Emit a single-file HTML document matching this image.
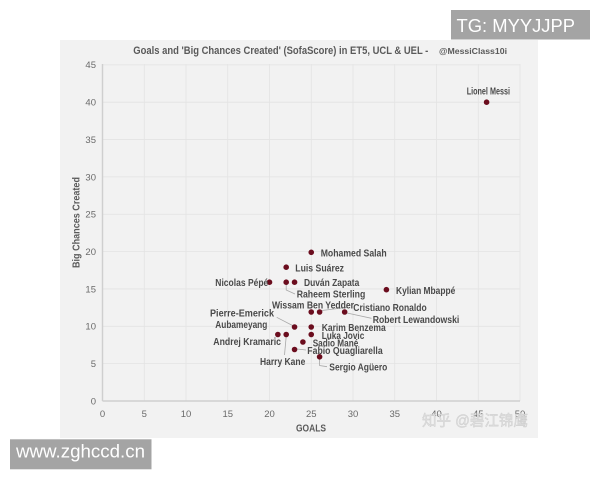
<!DOCTYPE html>
<html><head><meta charset="utf-8"><style>
html,body{margin:0;padding:0;background:#fff;width:600px;height:480px;overflow:hidden}
svg{display:block}
text{font-family:"Liberation Sans","Noto Sans CJK SC",sans-serif}
</style></head><body>
<svg width="600" height="480" viewBox="0 0 600 480" xmlns="http://www.w3.org/2000/svg">
<rect x="60" y="40" width="478" height="398" fill="#f2f2f2"/>
<g stroke="#e3e3e3" stroke-width="0.8">
<line x1="144.25" y1="64" x2="144.25" y2="401"/><line x1="186" y1="64" x2="186" y2="401"/>
<line x1="227.75" y1="64" x2="227.75" y2="401"/><line x1="269.5" y1="64" x2="269.5" y2="401"/>
<line x1="311.25" y1="64" x2="311.25" y2="401"/><line x1="353" y1="64" x2="353" y2="401"/>
<line x1="394.75" y1="64" x2="394.75" y2="401"/><line x1="436.5" y1="64" x2="436.5" y2="401"/>
<line x1="478.25" y1="64" x2="478.25" y2="401"/><line x1="520" y1="64" x2="520" y2="401"/>
<line x1="102.5" y1="363.65" x2="520" y2="363.65"/><line x1="102.5" y1="326.3" x2="520" y2="326.3"/>
<line x1="102.5" y1="288.95" x2="520" y2="288.95"/><line x1="102.5" y1="251.6" x2="520" y2="251.6"/>
<line x1="102.5" y1="214.25" x2="520" y2="214.25"/><line x1="102.5" y1="176.9" x2="520" y2="176.9"/>
<line x1="102.5" y1="139.55" x2="520" y2="139.55"/><line x1="102.5" y1="102.2" x2="520" y2="102.2"/>
<line x1="102.5" y1="64.85" x2="520" y2="64.85"/>
</g>
<g stroke="#cfcfcf" stroke-width="1.5">
<line x1="102.5" y1="64" x2="102.5" y2="401"/>
<line x1="102.5" y1="401" x2="520" y2="401"/>
</g>
<g fill="#6a6a6a" font-size="9.5" text-anchor="end">
<text x="96" y="404.5">0</text><text x="96" y="367">5</text><text x="96" y="329.7">10</text>
<text x="96" y="292.3">15</text><text x="96" y="255">20</text><text x="96" y="217.6">25</text>
<text x="96" y="180.3">30</text><text x="96" y="142.9">35</text><text x="96" y="105.6">40</text>
<text x="96" y="68.2">45</text>
</g>
<g fill="#6a6a6a" font-size="9.5" text-anchor="middle">
<text x="102.5" y="417">0</text><text x="144.25" y="417">5</text><text x="186" y="417">10</text>
<text x="227.75" y="417">15</text><text x="269.5" y="417">20</text><text x="311.25" y="417">25</text>
<text x="353" y="417">30</text><text x="394.75" y="417">35</text><text x="436.5" y="417">40</text>
<text x="478.25" y="417">45</text><text x="520" y="417">50</text>
</g>
<text x="311" y="431.5" font-size="10.5" font-weight="bold" fill="#5a5a5a" text-anchor="middle" textLength="30" lengthAdjust="spacingAndGlyphs">GOALS</text>
<text transform="translate(79.5,222.5) rotate(-90)" font-size="10.5" font-weight="bold" fill="#5a5a5a" text-anchor="middle" textLength="91" lengthAdjust="spacingAndGlyphs">Big Chances Created</text>
<text x="133.3" y="54" font-size="11" font-weight="bold" fill="#5a5a5a" textLength="295" lengthAdjust="spacingAndGlyphs">Goals and 'Big Chances  Created' (SofaScore)  in ET5, UCL &amp; UEL -</text>
<text x="439" y="54" font-size="8.5" font-weight="bold" fill="#5a5a5a" textLength="68" lengthAdjust="spacingAndGlyphs">@MessiClass10i</text>
<g stroke="#a8a8a8" stroke-width="0.8" fill="none">
<polyline points="286.2,284.5 286.2,290 295,294"/>
<line x1="322" y1="310.5" x2="347" y2="307.3"/>
<line x1="347" y1="313" x2="371.5" y2="318.3"/>
<line x1="276.7" y1="317.3" x2="292.5" y2="325.5"/>
<line x1="286.2" y1="336.5" x2="284.5" y2="355"/>
<line x1="297" y1="349" x2="306" y2="350"/>
<polyline points="319.6,359 319.6,365.5 327,366.7"/>
</g>
<g fill="#6b0d1e">
<circle cx="486.6" cy="102.2" r="2.8"/><circle cx="311.25" cy="252.3" r="2.8"/>
<circle cx="286.2" cy="267.2" r="2.8"/><circle cx="269.5" cy="282.2" r="2.8"/>
<circle cx="286.2" cy="282.2" r="2.8"/><circle cx="294.55" cy="282.2" r="2.8"/>
<circle cx="386.4" cy="289.7" r="2.8"/><circle cx="311.25" cy="312" r="2.8"/>
<circle cx="319.6" cy="312" r="2.8"/><circle cx="344.65" cy="312" r="2.8"/>
<circle cx="294.55" cy="327" r="2.8"/><circle cx="311.25" cy="327" r="2.8"/>
<circle cx="311.25" cy="334.5" r="2.8"/><circle cx="277.85" cy="334.5" r="2.8"/>
<circle cx="286.2" cy="334.5" r="2.8"/><circle cx="302.9" cy="342" r="2.8"/>
<circle cx="294.55" cy="349.5" r="2.8"/><circle cx="319.6" cy="356.8" r="2.8"/>
</g>
<g fill="#4a4a4a" font-size="10" font-weight="bold">
<text x="466.7" y="94.5" textLength="43.3" lengthAdjust="spacingAndGlyphs">Lionel Messi</text>
<text x="320.7" y="256.5" textLength="66" lengthAdjust="spacingAndGlyphs">Mohamed Salah</text>
<text x="295.3" y="271.5" textLength="48.7" lengthAdjust="spacingAndGlyphs">Luis Suárez</text>
<text x="215.3" y="286" textLength="53" lengthAdjust="spacingAndGlyphs">Nicolas Pépé</text>
<text x="304" y="286" textLength="55.3" lengthAdjust="spacingAndGlyphs">Duván Zapata</text>
<text x="296.7" y="297.5" textLength="68.6" lengthAdjust="spacingAndGlyphs">Raheem Sterling</text>
<text x="396" y="293.8" textLength="59.3" lengthAdjust="spacingAndGlyphs">Kylian Mbappé</text>
<text x="272" y="308.5" textLength="82" lengthAdjust="spacingAndGlyphs">Wissam Ben Yedder</text>
<text x="353.3" y="310.8" textLength="73.4" lengthAdjust="spacingAndGlyphs">Cristiano Ronaldo</text>
<text x="372.7" y="322.8" textLength="86.6" lengthAdjust="spacingAndGlyphs">Robert Lewandowski</text>
<text x="210" y="316.5" textLength="64" lengthAdjust="spacingAndGlyphs">Pierre-Emerick</text>
<text x="215.3" y="327.8" textLength="52" lengthAdjust="spacingAndGlyphs">Aubameyang</text>
<text x="321.7" y="331" textLength="64" lengthAdjust="spacingAndGlyphs">Karim Benzema</text>
<text x="321.7" y="339" textLength="42.6" lengthAdjust="spacingAndGlyphs">Luka Jovic</text>
<text x="213.3" y="344.8" textLength="67.7" lengthAdjust="spacingAndGlyphs">Andrej Kramaric</text>
<text x="260" y="365" textLength="45.3" lengthAdjust="spacingAndGlyphs">Harry Kane</text>
<text x="312.7" y="346.5" textLength="45.6" lengthAdjust="spacingAndGlyphs">Sadio Mané</text>
<text x="307.3" y="354" textLength="75.4" lengthAdjust="spacingAndGlyphs">Fabio Quagliarella</text>
<text x="329.3" y="370.5" textLength="58" lengthAdjust="spacingAndGlyphs">Sergio Agüero</text>
</g>
<text x="422" y="425.5" font-size="15" fill="#e0e0e0" stroke="#cccccc" stroke-width="0.4" textLength="106" lengthAdjust="spacingAndGlyphs">知乎 @碧江锦鹰</text>
<rect x="451" y="10" width="139" height="29.5" fill="#a4a4a4"/>
<text x="456.5" y="32" font-size="18" fill="#fff" textLength="118.5" lengthAdjust="spacingAndGlyphs">TG: MYYJJPP</text>
<rect x="10" y="439.3" width="141.5" height="30" fill="#a4a4a4"/>
<text x="16" y="457.5" font-size="18" fill="#fff" textLength="129" lengthAdjust="spacingAndGlyphs">www.zghccd.cn</text>
</svg>
</body></html>
